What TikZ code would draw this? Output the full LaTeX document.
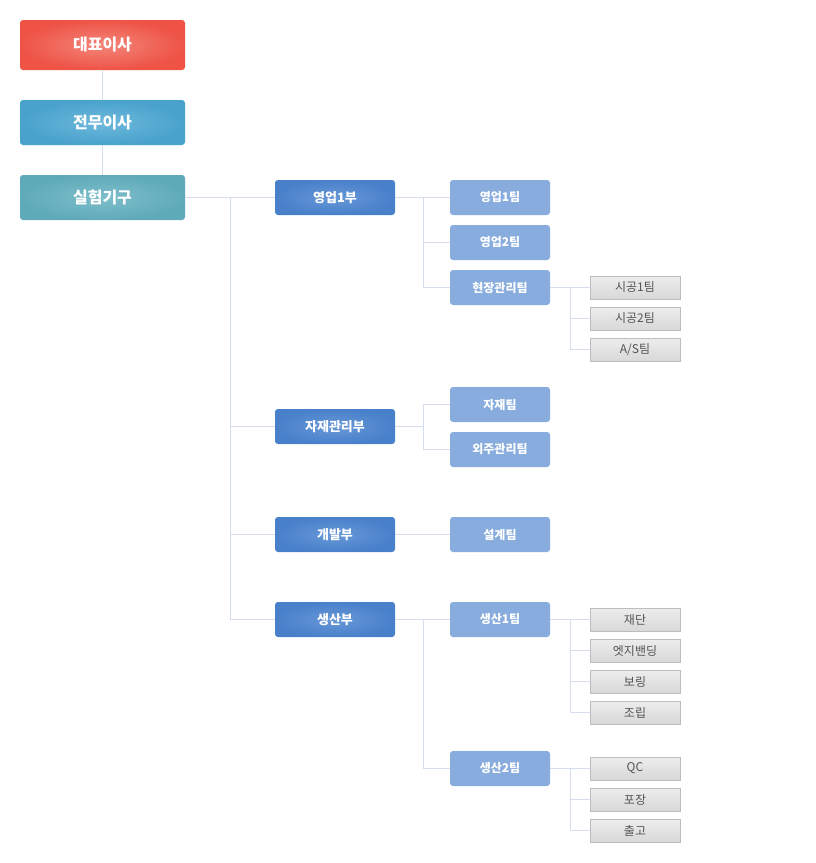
\documentclass[tikz,border=0pt]{standalone}
\usepackage{fontspec}
\setmainfont{Noto Sans CJK KR}
\usetikzlibrary{calc}
\definecolor{linec}{HTML}{D6DDEE}
\definecolor{deptout}{HTML}{4880CA}
\definecolor{deptin}{HTML}{6898D8}
\definecolor{teamc}{HTML}{87ACDD}
\definecolor{subtop}{HTML}{EDEDED}
\definecolor{subbot}{HTML}{D8D8D8}
\definecolor{subline}{HTML}{BDBDBD}
\definecolor{subtext}{HTML}{555555}
\begin{document}
\begin{tikzpicture}[x=1pt,y=-1pt,
    every node/.style={rounded corners=3pt,text=white,inner sep=0pt},
    top/.style={minimum width=165pt,font=\fontsize{16}{18}\selectfont\bfseries},
    dept/.style={minimum width=120pt,minimum height=35pt,outer color=deptout,inner color=deptin,font=\fontsize{13}{15}\selectfont\bfseries},
    team/.style={minimum width=100pt,minimum height=35pt,fill=teamc,font=\fontsize{12}{14}\selectfont\bfseries},
    sub/.style={rounded corners=0pt,minimum width=89.5pt,minimum height=23pt,top color=subtop,bottom color=subbot,draw=subline,text=subtext,font=\fontsize{12}{14}\selectfont},
    line/.style={draw=linec,thick}]
  \useasboundingbox (0,0) rectangle (815,863);

  \node[top,minimum height=50pt,outer color={rgb,255:red,238;green,83;blue,70},inner color={rgb,255:red,243;green,134;blue,122}] (CEO) at (102.5,45) {대표이사};
  \node[top,minimum height=45pt,outer color={rgb,255:red,72;green,162;blue,204},inner color={rgb,255:red,110;green,184;blue,219}] (VP) at (102.5,122.5) {전무이사};
  \node[top,minimum height=45pt,outer color={rgb,255:red,95;green,170;blue,185},inner color={rgb,255:red,126;green,190;blue,203}] (LAB) at (102.5,197.5) {실험기구};

  \node[dept] (D1) at (335,197.5) {영업1부};
  \node[dept] (D2) at (335,426.5) {자재관리부};
  \node[dept] (D3) at (335,534.5) {개발부};
  \node[dept] (D4) at (335,619.5) {생산부};

  \node[team] (T1) at (500,197.5) {영업1팀};
  \node[team] (T2) at (500,242.5) {영업2팀};
  \node[team] (T3) at (500,287.5) {현장관리팀};
  \node[team] (T4) at (500,404.5) {자재팀};
  \node[team] (T5) at (500,449.5) {외주관리팀};
  \node[team] (T6) at (500,534.5) {설계팀};
  \node[team] (T7) at (500,619.5) {생산1팀};
  \node[team] (T8) at (500,768.5) {생산2팀};

  \node[sub] (S1) at (635,287.5) {시공1팀};
  \node[sub] (S2) at (635,318.5) {시공2팀};
  \node[sub] (S3) at (635,349.5) {A/S팀};
  \node[sub] (S4) at (635,619.5) {재단};
  \node[sub] (S5) at (635,650.5) {엣지밴딩};
  \node[sub] (S6) at (635,681.5) {보링};
  \node[sub] (S7) at (635,712.5) {조립};
  \node[sub] (S8) at (635,768.5) {QC};
  \node[sub] (S9) at (635,799.5) {포장};
  \node[sub] (S10) at (635,830.5) {출고};

  \path[-] (CEO) edge[line] (VP);
  \path[-] (VP) edge[line] (LAB);
  \path[-] (LAB.east) edge[line] (D1.west);
  \foreach \d in {D2,D3,D4}
    \draw[line] (LAB.east) -- ++(45,0) |- (\d.west);

  \path[-] (D1.east) edge[line] (T1.west);
  \foreach \t in {T2,T3}
    \draw[line] (D1.east) -- ++(28,0) |- (\t.west);
  \draw[line] (D2.east) -- ++(28,0) |- (T4.west);
  \draw[line] (D2.east) -- ++(28,0) |- (T5.west);
  \path[-] (D3.east) edge[line] (T6.west);
  \path[-] (D4.east) edge[line] (T7.west);
  \draw[line] (D4.east) -- ++(28,0) |- (T8.west);

  \path[-] (T3.east) edge[line] (S1.west);
  \foreach \s in {S2,S3}
    \draw[line] (T3.east) -- ++(20,0) |- (\s.west);
  \path[-] (T7.east) edge[line] (S4.west);
  \foreach \s in {S5,S6,S7}
    \draw[line] (T7.east) -- ++(20,0) |- (\s.west);
  \path[-] (T8.east) edge[line] (S8.west);
  \foreach \s in {S9,S10}
    \draw[line] (T8.east) -- ++(20,0) |- (\s.west);
\end{tikzpicture}
\end{document}
